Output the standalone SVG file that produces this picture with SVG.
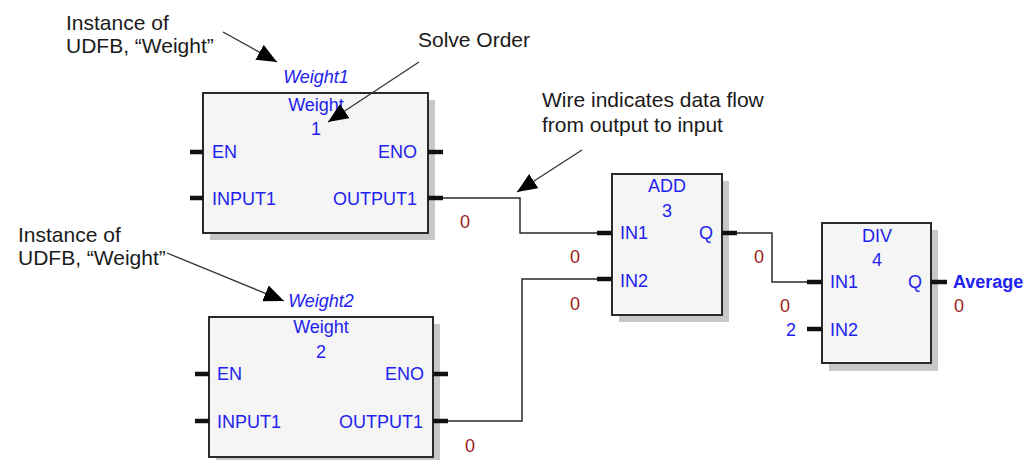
<svg xmlns="http://www.w3.org/2000/svg" width="1033" height="460" viewBox="0 0 1033 460">
<style>
.ann{font-family:"Liberation Sans",Arial,sans-serif;font-size:21px;fill:#1a1a1a}
.lbl{font-family:"Liberation Sans",Arial,sans-serif;font-size:18px;fill:#2222ee}
.it{font-style:italic}
.bold{font-weight:bold}
.mid{text-anchor:middle}
.end{text-anchor:end}
.val{font-family:"Liberation Sans",Arial,sans-serif;font-size:18px;fill:#9a1c1c;text-anchor:middle}
.box{fill:#f5f5f5;stroke:#2a2a2a;stroke-width:2}
.shadow{fill:#c8c8c8}
.stub{stroke:#111;stroke-width:4.5}
.wire{fill:none;stroke:#2a2a2a;stroke-width:1.5}
.pointer{stroke:#333;stroke-width:1.3;marker-end:url(#tri)}
</style>
<defs>
<marker id="tri" markerUnits="userSpaceOnUse" markerWidth="22" markerHeight="18" refX="20" refY="8.5" orient="auto">
<path d="M0,0 L20,8.5 L0,17 z" fill="#000"/>
</marker>
</defs>
<rect width="1033" height="460" fill="#fff"/>

<g id="connectors">
<polyline class="wire" points="443,198 520,198 520,233 597,233"/>
<polyline class="wire" points="448,421 522,421 522,279 597,279"/>
<polyline class="wire" points="737,233 772,233 772,282 807,282"/>
</g>

<g id="weight1">
<rect class="shadow" x="210" y="100" width="225" height="140"/>
<rect class="box" x="203" y="93" width="225" height="140"/>
<line class="stub" x1="190" y1="152" x2="203" y2="152"/>
<line class="stub" x1="190" y1="198" x2="203" y2="198"/>
<line class="stub" x1="428" y1="152" x2="443" y2="152"/>
<line class="stub" x1="428" y1="198" x2="443" y2="198"/>
<text class="lbl it mid" x="316" y="83">Weight1</text>
<text class="lbl mid" x="316" y="111">Weight</text>
<text class="lbl mid" x="316" y="135">1</text>
<text class="lbl" x="212" y="158">EN</text>
<text class="lbl end" x="417" y="158">ENO</text>
<text class="lbl" x="212" y="205">INPUT1</text>
<text class="lbl end" x="417" y="205">OUTPUT1</text>
<text class="val" x="465" y="228">0</text>
</g>

<g id="weight2">
<rect class="shadow" x="216" y="324" width="224" height="140"/>
<rect class="box" x="209" y="317" width="224" height="140"/>
<line class="stub" x1="195" y1="374" x2="209" y2="374"/>
<line class="stub" x1="195" y1="421" x2="209" y2="421"/>
<line class="stub" x1="433" y1="374" x2="448" y2="374"/>
<line class="stub" x1="433" y1="421" x2="448" y2="421"/>
<text class="lbl it mid" x="321" y="307">Weight2</text>
<text class="lbl mid" x="321" y="333">Weight</text>
<text class="lbl mid" x="321" y="358">2</text>
<text class="lbl" x="217" y="380">EN</text>
<text class="lbl end" x="424" y="380">ENO</text>
<text class="lbl" x="217" y="428">INPUT1</text>
<text class="lbl end" x="423" y="428">OUTPUT1</text>
<text class="val" x="470" y="452">0</text>
</g>

<g id="add">
<rect class="shadow" x="619" y="181" width="110" height="141"/>
<rect class="box" x="612" y="174" width="110" height="141"/>
<line class="stub" x1="597" y1="233" x2="612" y2="233"/>
<line class="stub" x1="597" y1="279" x2="612" y2="279"/>
<line class="stub" x1="722" y1="233" x2="737" y2="233"/>
<text class="lbl mid" x="667" y="192">ADD</text>
<text class="lbl mid" x="667" y="217">3</text>
<text class="lbl" x="620" y="239">IN1</text>
<text class="lbl" x="620" y="287">IN2</text>
<text class="lbl end" x="713" y="239">Q</text>
<text class="val" x="575" y="263">0</text>
<text class="val" x="575" y="310">0</text>
</g>

<g id="div">
<rect class="shadow" x="829" y="230" width="109" height="141"/>
<rect class="box" x="822" y="223" width="109" height="140"/>
<line class="stub" x1="807" y1="282" x2="822" y2="282"/>
<line class="stub" x1="807" y1="329" x2="822" y2="329"/>
<line class="stub" x1="931" y1="282" x2="947" y2="282"/>
<text class="lbl mid" x="877" y="242">DIV</text>
<text class="lbl mid" x="877" y="266">4</text>
<text class="lbl" x="830" y="288">IN1</text>
<text class="lbl" x="830" y="336">IN2</text>
<text class="lbl end" x="922" y="288">Q</text>
<text class="lbl bold" x="953" y="288">Average</text>
<text class="val" x="759" y="263">0</text>
<text class="val" x="785" y="312">0</text>
<text class="val" x="959" y="312">0</text>
<text class="lbl mid" x="791" y="336">2</text>
</g>

<g id="annotations">
<text class="ann" x="66" y="30">Instance of</text>
<text class="ann" x="66" y="53">UDFB, “Weight”</text>
<text class="ann" x="418" y="47">Solve Order</text>
<text class="ann" x="542" y="107">Wire indicates data flow</text>
<text class="ann" x="542" y="132">from output to input</text>
<text class="ann" x="18" y="242">Instance of</text>
<text class="ann" x="18" y="265">UDFB, “Weight”</text>
<line class="pointer" x1="223" y1="32" x2="277" y2="62"/>
<line class="pointer" x1="419" y1="62" x2="328" y2="122"/>
<line class="pointer" x1="582" y1="150" x2="517" y2="192"/>
<line class="pointer" x1="167" y1="253" x2="284" y2="301"/>
</g>
</svg>
